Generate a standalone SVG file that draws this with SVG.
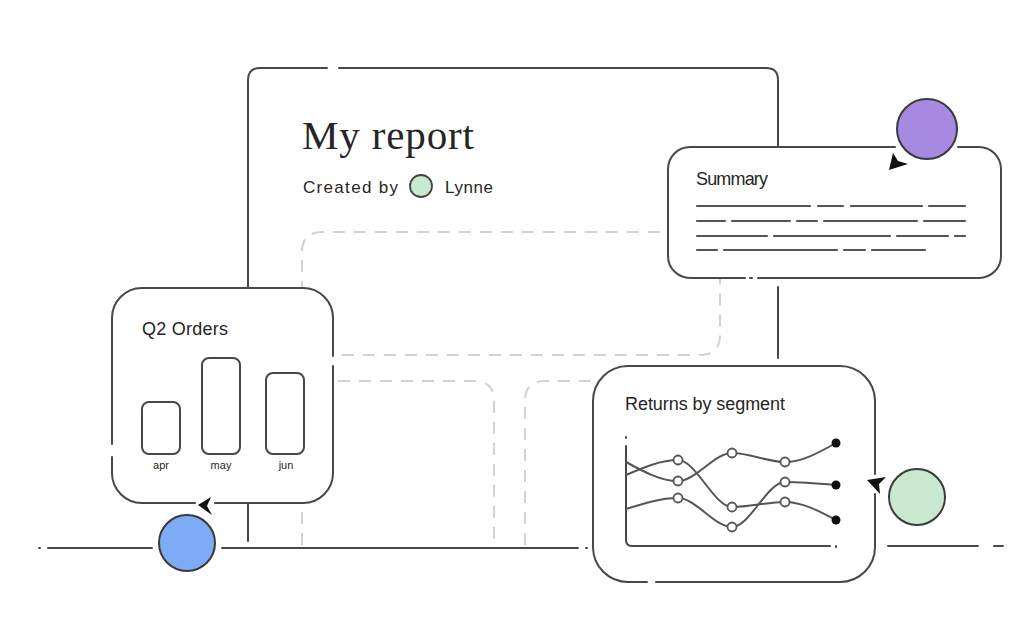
<svg xmlns="http://www.w3.org/2000/svg" width="1034" height="644" viewBox="0 0 1034 644">
<defs>
<style>
.ln{fill:none;stroke:#484848;stroke-width:2;stroke-linecap:round;stroke-linejoin:round}
.dash{fill:none;stroke:#d2d2d2;stroke-width:2;stroke-dasharray:12 9}
.card{fill:#ffffff;stroke:none}
.txt{font-family:"Liberation Sans",Arial,sans-serif;fill:#262626}
.ttl{font-size:18px}
.sm{font-size:11px}
.tl{fill:none;stroke:#555;stroke-width:2.2;stroke-linecap:round}
.cv{fill:none;stroke:#555;stroke-width:2}
.oc{fill:#fff;stroke:#555;stroke-width:1.8}
.fd{fill:#111}
.av{stroke:#3a3a3a;stroke-width:2}
.cur{fill:#111}
</style>
</defs>
<rect width="1034" height="644" fill="#ffffff"/>

<g id="guides">
<path class="dash" d="M302,545 V252 Q302,232 322,232 H700 Q720,232 720,252 V335 Q720,355 700,355 H336"/>
<path class="dash" d="M338,381 H474 Q494,381 494,401 V545"/>
<path class="dash" d="M525,545 V401 Q525,381 545,381 H597"/>
</g>

<g id="connectors">
<path class="ln" d="M248,288 V80 Q248,68 260,68 H327 M339,68 H766 Q778,68 778,80 V147"/>
<path class="ln" d="M778,287 V358"/>
<path class="ln" d="M248,503 V541"/>
<path class="ln" d="M39,548 H40 M48,548 H152 M222,548 H578 M586,548 H587"/>
<path class="ln" d="M888,546 H978 M994,546 H1003"/>
</g>

<g id="report">
<text class="txt" x="302" y="149" style="font-family:'Liberation Serif','Times New Roman',serif;font-size:41px" textLength="172" fill="#1e1e1e">My report</text>
<text class="txt" x="303" y="193" style="font-size:17px" textLength="95">Created by</text>
<circle cx="421" cy="186" r="11" fill="#c8e9cf" stroke="#444" stroke-width="1.8"/>
<text class="txt" x="445" y="193" style="font-size:17px" textLength="48">Lynne</text>
</g>

<g id="summary">
<rect class="card" x="668" y="147" width="333" height="131" rx="22"/>
<path class="ln" d="M690,147 H895 M958,147 H979 A22,22 0 0 1 1001,169 V256 A22,22 0 0 1 979,278 H758 M750,278 H752 M745,278 H690 A22,22 0 0 1 668,256 V169 A22,22 0 0 1 690,147"/>
<text class="txt ttl" x="696" y="185" textLength="72">Summary</text>
<path class="tl" d="M697,206 H810 M818,206 H843 M851,206 H922 M929,206 H965"/>
<path class="tl" d="M697,221 H725 M732,221 H790 M797,221 H817 M824,221 H917 M924,221 H965"/>
<path class="tl" d="M697,236 H767 M774,236 H890 M897,236 H948 M955,236 H965"/>
<path class="tl" d="M697,250 H717 M724,250 H837 M844,250 H865 M872,250 H925"/>
</g>

<g id="orders">
<rect class="card" x="112" y="288" width="221" height="215" rx="30"/>
<path class="ln" d="M112,318 A30,30 0 0 1 142,288 H303 A30,30 0 0 1 333,318 V356 M333,366 V473 A30,30 0 0 1 303,503 H215 M195,503 H142 A30,30 0 0 1 112,473 V457 M112,444 V318"/>
<text class="txt ttl" x="142" y="335" textLength="86">Q2 Orders</text>
<rect class="ln" x="142" y="402" width="38" height="52" rx="7"/>
<rect class="ln" x="202" y="358" width="38" height="96" rx="7"/>
<rect class="ln" x="266" y="373" width="38" height="81" rx="7"/>
<text class="txt sm" x="161" y="469" text-anchor="middle">apr</text>
<text class="txt sm" x="221" y="469" text-anchor="middle">may</text>
<text class="txt sm" x="286" y="469" text-anchor="middle">jun</text>
</g>

<g id="returns">
<rect class="card" x="593" y="366" width="282" height="216" rx="35"/>
<path class="ln" d="M628,366 H840 A35,35 0 0 1 875,401 V474 M875,494 V547 A35,35 0 0 1 840,582 H656 M647,582 H628 A35,35 0 0 1 593,547 V401 A35,35 0 0 1 628,366"/>
<text class="txt ttl" x="625" y="410" textLength="160">Returns by segment</text>
<path class="ln" d="M626,437 V438 M626,446 V540 Q626,546 632,546 H830 M836,546 V547"/>
<path class="cv" d="M626,475 C643.3,467.5 660.7,460 678,460 C696,460 714,507 732,507 C749.7,507 767.3,502 785,502 C802,502 819,511 836,520"/>
<path class="cv" d="M626,462 C643.3,471.5 660.7,481 678,481 C696,481 714,453 732,453 C749.7,453 767.3,462 785,462 C802,462 819,452.5 836,443"/>
<path class="cv" d="M626,509 C643.3,503.5 660.7,498 678,498 C696,498 714,527 732,527 C749.7,527 767.3,482 785,482 C802,482 819,483.5 836,485"/>
<circle class="oc" cx="678" cy="460" r="4.5"/>
<circle class="oc" cx="678" cy="481" r="4.5"/>
<circle class="oc" cx="678" cy="498" r="4.5"/>
<circle class="oc" cx="732" cy="453" r="4.5"/>
<circle class="oc" cx="732" cy="507" r="4.5"/>
<circle class="oc" cx="732" cy="527" r="4.5"/>
<circle class="oc" cx="785" cy="462" r="4.5"/>
<circle class="oc" cx="785" cy="482" r="4.5"/>
<circle class="oc" cx="785" cy="502" r="4.5"/>
<circle class="fd" cx="836" cy="443" r="4.5"/>
<circle class="fd" cx="836" cy="485" r="4.5"/>
<circle class="fd" cx="836" cy="520" r="4.5"/>
</g>

<g id="cursor-purple">
<circle class="av" cx="927" cy="129" r="30" fill="#a68ae2"/>
<path class="cur" d="M889,170 L893,153 L898,161 L908,164 Z"/>
</g>
<g id="cursor-blue">
<circle class="av" cx="187" cy="543" r="28" fill="#7eabf5"/>
<path class="cur" d="M198,505 L211,497 L207,506 L212,515 Z"/>
</g>
<g id="cursor-green">
<circle class="av" cx="917" cy="497" r="28" fill="#c8e9cf"/>
<path class="cur" d="M867,480 L886,477 L879,484 L880,494 Z"/>
</g>
</svg>
